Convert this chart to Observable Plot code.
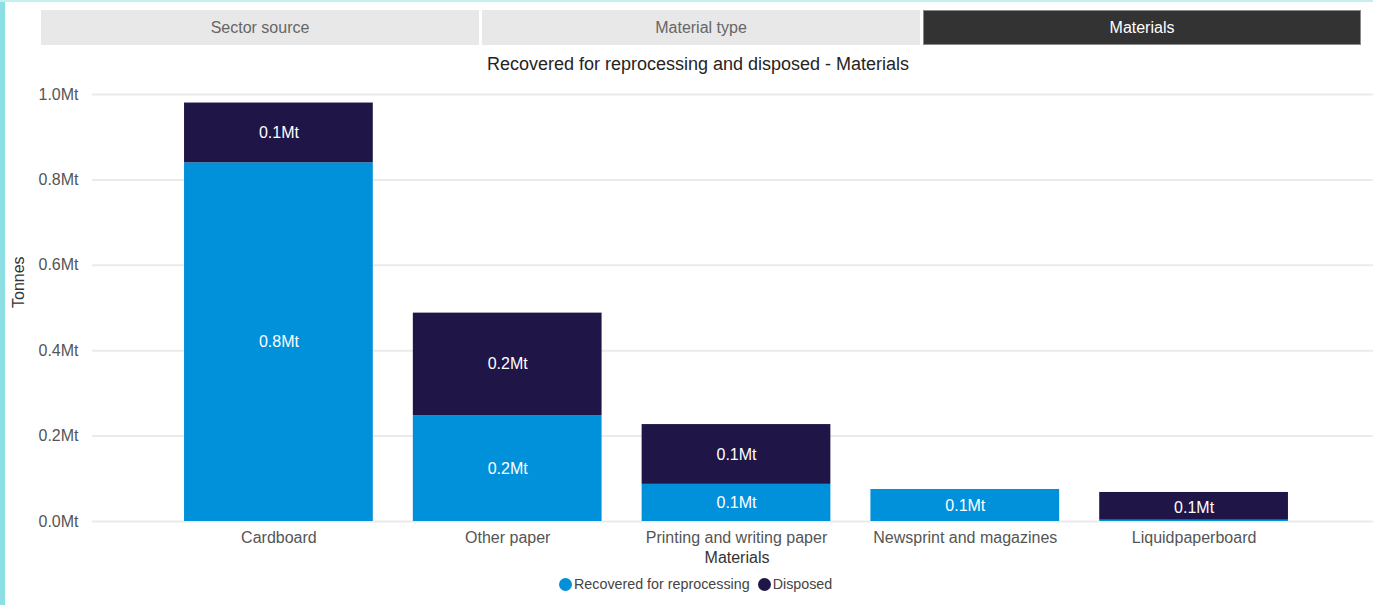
<!DOCTYPE html>
<html>
<head>
<meta charset="utf-8">
<script src="https://cdn.jsdelivr.net/npm/d3@7"></script>
<script src="https://cdn.jsdelivr.net/npm/@observablehq/plot@0.6"></script>
<style>
  html, body { margin: 0; padding: 0; background: #fff; }
  body { width: 1373px; height: 605px; position: relative; overflow: hidden;
         font-family: "Liberation Sans", Arial, sans-serif; }
  .edge-left { position: absolute; left: 0; top: 0; width: 5px; height: 605px; background: #8cdfe3; }
  .edge-top { position: absolute; left: 0; top: 0; width: 1373px; height: 2px; background: #c4eff1; }
  .tab { position: absolute; top: 10px; height: 35px; width: 438px; background: #e8e8e8; color: #666;
         font-size: 16px; line-height: 35px; text-align: center; box-sizing: border-box; }
  .tab.sel { background: #333333; color: #ffffff; border: 1px solid #8a8a8a; line-height: 33px; }
  .title { position: absolute; top: 53px; left: 398px; width: 600px; text-align: center;
           font-size: 18px; color: #252423; line-height: 22px; }
  #chart { position: absolute; top: 80px; left: 0; }
  .legend { position: absolute; top: 576px; left: 559px; display: flex; align-items: center;
            font-size: 14.3px; color: #444; line-height: 16px; white-space: nowrap; }
  .legend .sw { width: 13px; height: 13px; border-radius: 50%; display: inline-block; margin-right: 2px; }
  .legend .item { display: flex; align-items: center; margin-right: 8px; }
</style>
</head>
<body>
<div class="edge-left"></div>
<div class="edge-top"></div>
<div id="tabs"></div>
<div class="title" id="title"></div>
<div id="chart"></div>
<div class="legend" id="legend"></div>
<script>
// ---- data ----
const tabs = ["Sector source", "Material type", "Materials"];
const selectedTab = "Materials";
const chartTitle = "Recovered for reprocessing and disposed - Materials";
const materials = ["Cardboard", "Other paper", "Printing and writing paper", "Newsprint and magazines", "Liquidpaperboard"];
const seriesNames = ["Recovered for reprocessing", "Disposed"];
const recovered = [0.840, 0.248, 0.087, 0.075, 0.003];
const disposed  = [0.140, 0.240, 0.140, 0.000, 0.065];
const yTicks = [0, 0.2, 0.4, 0.6, 0.8, 1.0];
const seriesColors = ["#0091DA", "#201547"];
const yLabel = "Tonnes";
const xLabel = "Materials";

// ---- header ----
const tabLefts = [41, 482, 923];
const tabsEl = document.getElementById("tabs");
tabs.forEach((t, i) => {
  const d = document.createElement("div");
  d.className = "tab" + (t === selectedTab ? " sel" : "");
  d.style.left = tabLefts[i] + "px";
  d.textContent = t;
  tabsEl.appendChild(d);
});
document.getElementById("title").textContent = chartTitle;

// ---- table ----
const rows = [];
materials.forEach((m, i) => {
  rows.push({material: m, series: seriesNames[0], value: recovered[i]});
  rows.push({material: m, series: seriesNames[1], value: disposed[i]});
});
const fmt = v => v.toFixed(1) + "Mt";

const chart = Plot.plot({
  width: 1373,
  height: 490,
  marginLeft: 92,
  marginRight: 0,
  marginTop: 14,
  marginBottom: 49,
  style: {fontFamily: "'Liberation Sans', Arial, sans-serif", fontSize: "16px", color: "#555", background: "transparent"},
  x: {domain: materials, range: [144, 1328], padding: 0.175, round: false, tickSize: 0, tickPadding: 10, label: null},
  y: {domain: [0, 1], ticks: yTicks, tickSize: 0, tickPadding: 14, tickFormat: fmt, label: null},
  color: {domain: seriesNames, range: seriesColors},
  marks: [
    Plot.ruleY(yTicks, {stroke: "#ebebeb", strokeWidth: 2}),
    Plot.barY(rows, {x: "material", y: "value", fill: "series", z: "series"}),
    Plot.text(rows, Plot.stackY({
      x: "material", y: "value", z: "series",
      text: d => fmt(d.value),
      filter: d => d.value >= 0.05,
      fill: "white", fontSize: 16
    })),
    Plot.text([yLabel], {text: d => d, frameAnchor: "left", rotate: -90, dx: -74, fontSize: 16, fill: "#333"}),
    Plot.text([xLabel], {text: d => d, frameAnchor: "bottom", dy: 41, dx: 4, fontSize: 16, fill: "#333"})
  ]
});
document.getElementById("chart").appendChild(chart);

// ---- legend ----
const legendEl = document.getElementById("legend");
seriesNames.forEach((s, i) => {
  const it = document.createElement("div");
  it.className = "item";
  const sw = document.createElement("span");
  sw.className = "sw";
  sw.style.background = seriesColors[i];
  const tx = document.createElement("span");
  tx.textContent = s;
  it.appendChild(sw); it.appendChild(tx);
  legendEl.appendChild(it);
});
</script>
</body>
</html>
